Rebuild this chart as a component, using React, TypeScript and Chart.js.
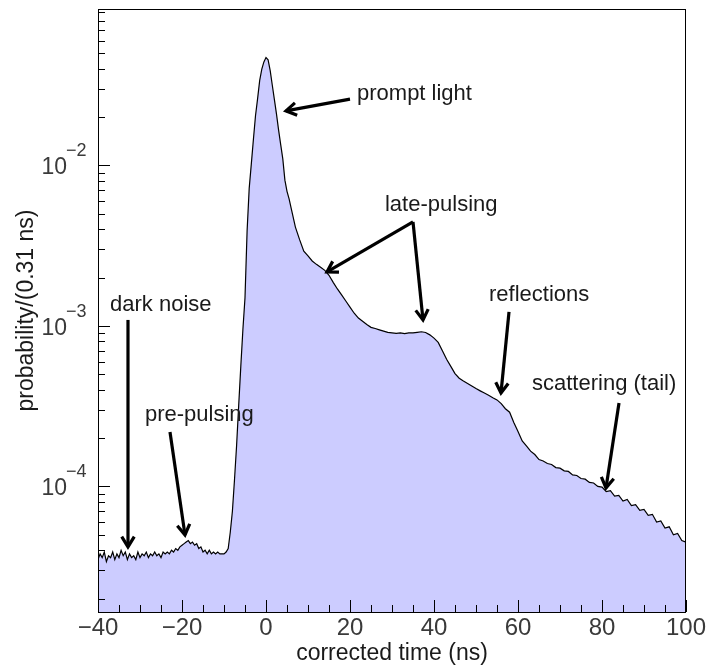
import React, { useEffect, useRef } from "react";
import { Chart, registerables } from "chart.js";

Chart.register(...registerables);

// Pre-trigger window: dark-noise floor and the pre-pulsing bump (0.5 ns steps)
const preTime = [
  -40, -39.5, -39, -38.5, -38, -37.5, -37, -36.5, -36, -35.5, -35, -34.5, -34, -33.5, -33, -32.5,
  -32, -31.5, -31, -30.5, -30, -29.5, -29, -28.5, -28, -27.5, -27, -26.5, -26, -25.5, -25, -24.5,
  -24, -23.5, -23, -22.5, -22, -21.5, -21, -20.5, -20, -19.5, -19, -18.5, -18, -17.5, -17, -16.5,
  -16, -15.5, -15, -14.5, -14, -13.5, -13, -12.5, -12, -11.5, -11, -10.5, -10, -9.5,
];
const preProb = [
  3.5e-5, 3.8e-5, 3.6e-5, 3.9e-5, 3.4e-5, 3.7e-5, 3.6e-5, 3.9e-5, 3.5e-5, 3.8e-5, 3.6e-5, 4.0e-5,
  3.7e-5, 3.9e-5, 3.5e-5, 3.8e-5, 3.6e-5, 3.7e-5, 3.5e-5, 3.9e-5, 3.6e-5, 3.8e-5, 3.7e-5, 3.9e-5,
  3.6e-5, 3.8e-5, 3.7e-5, 3.9e-5, 3.7e-5, 3.8e-5, 3.6e-5, 3.9e-5, 3.8e-5, 3.9e-5, 3.8e-5, 4.0e-5,
  3.9e-5, 4.1e-5, 4.0e-5, 4.2e-5, 4.3e-5, 4.4e-5, 4.5e-5, 4.6e-5, 4.4e-5, 4.5e-5, 4.3e-5, 4.4e-5,
  4.1e-5, 4.2e-5, 3.9e-5, 4.0e-5, 3.8e-5, 4.0e-5, 3.8e-5, 3.9e-5, 3.8e-5, 3.9e-5, 3.8e-5, 3.8e-5,
  3.8e-5, 3.9e-5,
];

// Prompt light peak (0.5 ns steps)
const promptTime = [
  -9, -8.5, -8, -7.5, -7, -6.5, -6, -5.5, -5, -4.5, -4, -3.5, -3, -2.5, -2, -1.5,
  -1, -0.5, 0, 0.5, 1, 1.5, 2, 2.5, 3, 3.5, 4, 4.5, 5, 5.5, 6,
];
const promptProb = [
  4.1e-5, 5.2e-5, 7.0e-5, 1.1e-4, 1.8e-4, 3.2e-4, 5.6e-4, 9.5e-4, 1.5e-3, 3.9e-3, 7.2e-3, 1.02e-2,
  1.45e-2, 2.04e-2, 2.61e-2, 3.39e-2, 3.98e-2, 4.42e-2, 4.7e-2, 4.55e-2, 3.9e-2, 3.16e-2, 2.57e-2,
  2.09e-2, 1.66e-2, 1.35e-2, 1.1e-2, 8.1e-3, 6.9e-3, 6.2e-3, 5.4e-3,
];

// Late-pulsing, reflections and scattering tail (1 ns steps)
const lateTime = [
  7, 8, 9, 10, 11, 12, 13, 14, 15, 16, 17, 18, 19, 20, 21, 22, 23, 24, 25, 26, 27, 28, 29, 30,
  31, 32, 33, 34, 35, 36, 37, 38, 39, 40, 41, 42, 43, 44, 45, 46, 47, 48, 49, 50, 51, 52, 53, 54,
  55, 56, 57, 58, 59, 60, 61, 62, 63, 64, 65, 66, 67, 68, 69, 70, 71, 72, 73, 74, 75, 76, 77, 78,
  79, 80, 81, 82, 83, 84, 85, 86, 87, 88, 89, 90, 91, 92, 93, 94, 95, 96, 97, 98, 99, 100,
];
const lateProb = [
  4.13e-3, 3.45e-3, 2.92e-3, 2.73e-3, 2.54e-3, 2.42e-3, 2.32e-3, 2.22e-3, 2.07e-3, 1.87e-3, 1.7e-3,
  1.56e-3, 1.43e-3, 1.31e-3, 1.2e-3, 1.12e-3, 1.07e-3, 1.02e-3, 9.8e-4, 9.64e-4, 9.46e-4, 9.29e-4,
  9.12e-4, 9.05e-4, 8.98e-4, 9.04e-4, 8.95e-4, 9.06e-4, 9.05e-4, 9.12e-4, 9.2e-4, 9.1e-4, 8.8e-4,
  8.4e-4, 7.9e-4, 7.0e-4, 6.2e-4, 5.6e-4, 5.05e-4, 4.72e-4, 4.54e-4, 4.38e-4, 4.22e-4, 4.07e-4,
  3.94e-4, 3.82e-4, 3.7e-4, 3.57e-4, 3.46e-4, 3.28e-4, 3.05e-4, 2.9e-4, 2.5e-4, 2.2e-4, 1.92e-4,
  1.79e-4, 1.66e-4, 1.58e-4, 1.47e-4, 1.44e-4, 1.39e-4, 1.37e-4, 1.31e-4, 1.3e-4, 1.25e-4, 1.24e-4,
  1.18e-4, 1.17e-4, 1.12e-4, 1.11e-4, 1.06e-4, 1.05e-4, 1.0e-4, 9.9e-5, 9.3e-5, 9.4e-5, 8.7e-5,
  8.8e-5, 8.1e-5, 8.3e-5, 7.6e-5, 7.7e-5, 7.1e-5, 7.2e-5, 6.6e-5, 6.7e-5, 6.0e-5, 6.1e-5, 5.5e-5,
  5.6e-5, 5.0e-5, 5.1e-5, 4.6e-5, 4.5e-5,
];

// Axis ranges and tick labels
const timeRange = [-40, 100];
const probRange = [1.65e-5, 0.0944];
const xMajorTicks = [-40, -20, 0, 20, 40, 60, 80, 100];
const xMinorStep = 5;
const yDecadeTicks = [1e-4, 1e-3, 1e-2];
const yDecadeExponents = ["\u22124", "\u22123", "\u22122"];

// Callouts: label anchor and arrows [fromT, fromP, toT, toP], in data units
const callouts = [
  { text: "prompt light", t: 21.67, p: 0.0279, arrows: [[20.0, 0.0259, 4.76, 0.0219]] },
  {
    text: "late-pulsing",
    t: 28.33,
    p: 5.68e-3,
    arrows: [
      [35.0, 4.45e-3, 14.52, 2.17e-3],
      [35.0, 4.45e-3, 37.38, 1.09e-3],
    ],
  },
  { text: "reflections", t: 53.1, p: 1.56e-3, arrows: [[57.86, 1.223e-3, 55.95, 3.82e-4]] },
  { text: "scattering (tail)", t: 63.33, p: 4.35e-4, arrows: [[84.05, 3.31e-4, 80.95, 9.79e-5]] },
  { text: "dark noise", t: -37.14, p: 1.35e-3, arrows: [[-32.86, 1.09e-3, -32.86, 4.2e-5]] },
  { text: "pre-pulsing", t: -28.81, p: 2.79e-4, arrows: [[-22.86, 2.186e-4, -19.29, 4.99e-5]] },
];

const FONT = '"Liberation Sans", Arial, Helvetica, sans-serif';

function drawArrow(ctx: CanvasRenderingContext2D, x1: number, y1: number, x2: number, y2: number) {
  ctx.beginPath();
  ctx.moveTo(x1, y1);
  ctx.lineTo(x2, y2);
  ctx.stroke();
  const a = Math.atan2(y2 - y1, x2 - x1);
  const len = 12;
  const spread = 0.55;
  ctx.beginPath();
  ctx.moveTo(x2 - len * Math.cos(a - spread), y2 - len * Math.sin(a - spread));
  ctx.lineTo(x2, y2);
  ctx.lineTo(x2 - len * Math.cos(a + spread), y2 - len * Math.sin(a + spread));
  ctx.stroke();
}

// Frame, inward ticks, tick labels, axis titles and callouts
const framePlugin = {
  id: "rootFrame",
  afterDatasetsDraw(chart: any) {
    const { ctx, chartArea: a, scales } = chart;
    const xs = scales.x;
    const ys = scales.y;
    ctx.save();

    // frame
    ctx.strokeStyle = "#000";
    ctx.lineWidth = 1;
    ctx.strokeRect(a.left + 0.5, a.top + 0.5, a.right - a.left - 1, a.bottom - a.top);

    // x ticks (inward from the bottom axis)
    ctx.beginPath();
    for (let v = timeRange[0]; v <= timeRange[1]; v += xMinorStep) {
      const x = Math.round(xs.getPixelForValue(v)) + 0.5;
      const len = xMajorTicks.includes(v) ? 12 : 7;
      ctx.moveTo(x, a.bottom);
      ctx.lineTo(x, a.bottom - len);
    }
    // y ticks (inward from the left axis)
    for (let d = -5; d <= -1; d++) {
      for (let m = 1; m <= 9; m++) {
        const val = m * Math.pow(10, d);
        if (val < probRange[0] || val > probRange[1]) continue;
        const y = Math.round(ys.getPixelForValue(val)) + 0.5;
        const len = m === 1 ? 12 : 7;
        ctx.moveTo(a.left, y);
        ctx.lineTo(a.left + len, y);
      }
    }
    ctx.stroke();

    // x tick labels
    ctx.fillStyle = "#3a3a3a";
    ctx.font = `24px ${FONT}`;
    ctx.textAlign = "center";
    ctx.textBaseline = "alphabetic";
    xMajorTicks.forEach((v) => {
      const label = v < 0 ? `\u2212${Math.abs(v)}` : `${v}`;
      ctx.fillText(label, xs.getPixelForValue(v), a.bottom + 23);
    });

    // y tick labels: 10 with superscript exponent
    yDecadeTicks.forEach((v, i) => {
      const y = ys.getPixelForValue(v);
      ctx.font = `23px ${FONT}`;
      ctx.textAlign = "right";
      ctx.textBaseline = "alphabetic";
      ctx.fillText("10", 67, y + 9);
      ctx.font = `18px ${FONT}`;
      ctx.textAlign = "left";
      ctx.fillText(yDecadeExponents[i], 66, y - 9);
    });

    // axis titles
    ctx.fillStyle = "#1a1a1a";
    ctx.font = `23px ${FONT}`;
    ctx.textAlign = "center";
    ctx.textBaseline = "middle";
    ctx.fillText("corrected time (ns)", (a.left + a.right) / 2, 654);
    ctx.save();
    ctx.translate(27, (a.top + a.bottom) / 2);
    ctx.rotate(-Math.PI / 2);
    ctx.fillText("probability/(0.31 ns)", 0, 0);
    ctx.restore();

    // callouts
    ctx.font = `22px ${FONT}`;
    ctx.textAlign = "left";
    ctx.textBaseline = "middle";
    ctx.strokeStyle = "#000";
    ctx.lineWidth = 3.2;
    ctx.lineJoin = "miter";
    callouts.forEach((c) => {
      ctx.fillStyle = "#1a1a1a";
      ctx.fillText(c.text, xs.getPixelForValue(c.t), ys.getPixelForValue(c.p));
      c.arrows.forEach(([t1, p1, t2, p2]) => {
        drawArrow(
          ctx,
          xs.getPixelForValue(t1),
          ys.getPixelForValue(p1),
          xs.getPixelForValue(t2),
          ys.getPixelForValue(p2)
        );
      });
    });

    ctx.restore();
  },
};

export default function App() {
  const canvasRef = useRef<HTMLCanvasElement | null>(null);

  useEffect(() => {
    const canvas = canvasRef.current;
    if (!canvas) return;
    const times = [...preTime, ...promptTime, ...lateTime];
    const probs = [...preProb, ...promptProb, ...lateProb];
    const points = times.map((t, i) => ({ x: t, y: probs[i] }));

    const chart = new Chart(canvas, {
      type: "line",
      data: {
        datasets: [
          {
            data: points,
            borderColor: "#000",
            borderWidth: 1.2,
            backgroundColor: "#ccccff",
            fill: "start",
            pointRadius: 0,
            tension: 0,
          },
        ],
      },
      options: {
        animation: false,
        responsive: true,
        maintainAspectRatio: false,
        layout: { padding: { top: 9, right: 21, left: 0, bottom: 0 } },
        plugins: { legend: { display: false }, tooltip: { enabled: false }, title: { display: false } },
        events: [],
        scales: {
          x: {
            type: "linear",
            min: timeRange[0],
            max: timeRange[1],
            grid: { display: false },
            border: { display: false },
            ticks: { display: false },
            afterFit: (s: any) => {
              s.height = 55;
            },
          },
          y: {
            type: "logarithmic",
            min: probRange[0],
            max: probRange[1],
            grid: { display: false },
            border: { display: false },
            ticks: { display: false },
            afterFit: (s: any) => {
              s.width = 98;
            },
          },
        },
      },
      plugins: [framePlugin],
    });
    return () => chart.destroy();
  }, []);

  return (
    <div style={{ position: "fixed", left: 0, top: 0, width: 707, height: 667, background: "#fff" }}>
      <canvas ref={canvasRef} />
    </div>
  );
}
